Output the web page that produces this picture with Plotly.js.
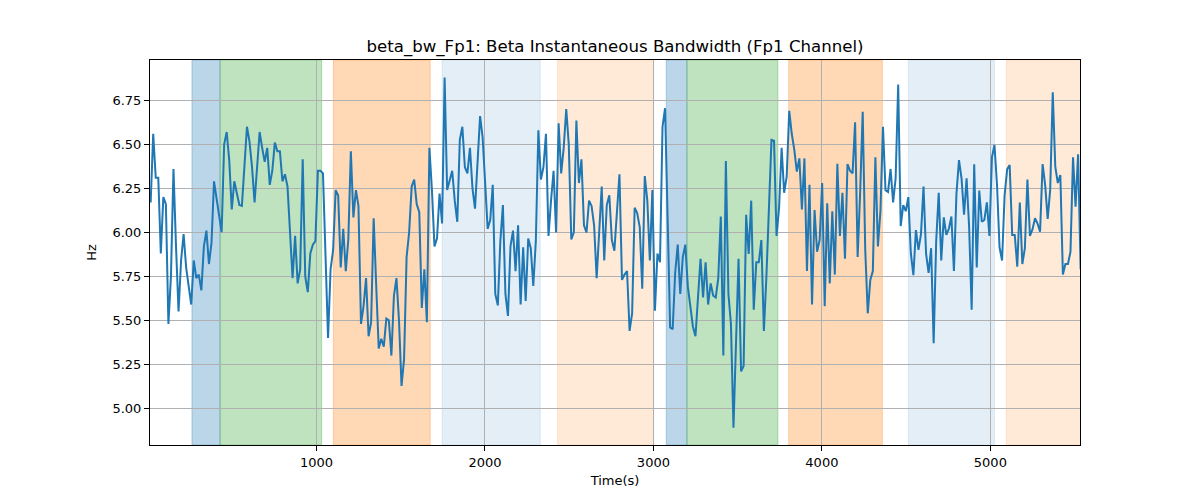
<!DOCTYPE html>
<html>
<head>
<meta charset="utf-8">
<script src="https://cdn.plot.ly/plotly-3.0.1.min.js"></script>
<style>
  body { margin: 0; background: #fff; }
  #chart { width: 1200px; height: 500px; }
</style>
</head>
<body>
<div id="chart"></div>
<script>
// beta bandwidth, Fp1 channel (Hz), sampled every ~15 s starting at t=16
const tStart = 16;
const tStep = 15.04;
const bw = [
  6.17, 6.56, 6.31, 6.31, 5.88, 6.20, 6.16, 5.48, 5.75, 6.36,
  5.92, 5.55, 5.84, 5.99, 5.80, 5.70, 5.59, 5.84, 5.74, 5.76,
  5.67, 5.92, 6.01, 5.82, 5.94, 6.29, 6.20, 6.10, 6.00, 6.50,
  6.57, 6.41, 6.13, 6.29, 6.22, 6.155, 6.15, 6.35, 6.60, 6.515,
  6.37, 6.17, 6.35, 6.57, 6.48, 6.40, 6.48, 6.27, 6.35, 6.51,
  6.46, 6.46, 6.29, 6.33, 6.26, 5.99, 5.74, 5.98, 5.71, 5.79,
  6.415, 5.75, 5.66, 5.88, 5.93, 5.95, 6.35, 6.35, 6.335, 5.87,
  5.40, 5.79, 5.90, 6.24, 6.21, 5.80, 6.02, 5.78, 5.96, 6.46,
  6.085, 6.24, 6.15, 5.48, 5.58, 5.74, 5.41, 5.49, 6.08, 5.70,
  5.34, 5.395, 5.35, 5.51, 5.50, 5.30, 5.64, 5.74, 5.50, 5.127,
  5.28, 5.86, 6.00, 6.26, 6.30, 6.16, 6.115, 5.57, 5.79, 5.49,
  6.48, 6.24, 5.92, 5.966, 6.22, 6.05, 6.88, 6.24, 6.30, 6.35,
  6.18, 6.06, 6.525, 6.60, 6.37, 6.335, 6.48, 6.25, 6.135, 6.41,
  6.66, 6.54, 6.26, 6.02, 6.07, 6.27, 5.65, 5.585, 5.95, 6.155,
  5.65, 5.525, 5.92, 6.01, 5.78, 6.04, 5.59, 5.915, 5.61, 5.965,
  5.91, 5.695, 5.95, 6.58, 6.30, 6.37, 6.56, 5.98, 6.18, 6.35,
  6.00, 6.62, 6.335, 6.48, 6.70, 6.50, 5.96, 6.00, 6.635, 6.28,
  6.415, 6.04, 6.00, 6.18, 6.15, 6.04, 5.74, 6.04, 6.26, 5.84,
  6.155, 6.21, 5.956, 5.896, 6.127, 6.33, 5.73, 5.76, 5.78, 5.44,
  5.54, 6.14, 6.11, 6.03, 5.68, 6.32, 6.18, 5.84, 6.24, 5.555,
  5.88, 5.83, 6.60, 6.705, 6.09, 5.46, 5.45, 5.77, 5.93, 5.65,
  5.86, 5.93, 5.69, 5.56, 5.464, 5.41, 5.65, 5.85, 5.63, 5.83,
  5.59, 5.71, 5.64, 5.63, 5.74, 6.09, 5.30, 6.405, 5.65, 5.48,
  4.89, 5.37, 5.85, 5.21, 5.24, 6.10, 5.877, 6.18, 5.56, 5.83,
  5.83, 5.956, 5.44, 5.75, 6.09, 6.525, 6.52, 5.98, 6.14, 6.48,
  6.225, 6.316, 6.69, 6.56, 6.47, 6.345, 6.42, 6.13, 6.42, 5.78,
  6.27, 5.59, 6.127, 5.89, 5.956, 6.28, 5.58, 6.165, 5.71, 6.12,
  5.76, 6.39, 5.98, 6.225, 5.85, 6.388, 6.35, 6.335, 6.625, 5.86,
  6.23, 6.685, 5.90, 5.54, 5.73, 5.78, 6.426, 5.92, 6.12, 6.60,
  6.24, 6.23, 6.36, 6.17, 6.307, 6.84, 6.036, 6.155, 6.12, 6.20,
  5.88, 5.757, 6.013, 5.90, 5.99, 6.26, 5.88, 5.77, 5.91, 5.37,
  5.95, 6.225, 5.84, 6.085, 5.985, 6.02, 6.09, 5.78, 6.22, 6.41,
  6.307, 6.10, 6.307, 6.03, 5.56, 6.386, 5.80, 6.237, 6.06, 6.07,
  6.17, 5.98, 6.426, 6.496, 6.27, 5.915, 5.84, 6.21, 6.358, 6.383,
  5.985, 5.985, 5.805, 6.17, 5.82, 5.91, 6.30, 5.98, 6.017, 6.08,
  6.05, 6.004, 6.388, 6.27, 6.076, 6.244, 6.795, 6.373, 6.28, 6.326,
  5.76, 5.82, 5.82, 5.89, 6.426, 6.146, 6.443, 5.79
];

// shaded segments: start, end, colour
const spanStart = [261, 428, 1100, 1746, 2431, 3076, 3199, 3803, 4513, 5095];
const spanEnd   = [428, 1031, 1675, 2328, 3001, 3199, 3739, 4359, 5024, 5600];
const spanColor = [
  "rgba(31,119,180,0.3)", "rgba(44,160,44,0.3)", "rgba(255,127,14,0.3)",
  "rgba(31,119,180,0.12)", "rgba(255,127,14,0.16)",
  "rgba(31,119,180,0.3)", "rgba(44,160,44,0.3)", "rgba(255,127,14,0.3)",
  "rgba(31,119,180,0.12)", "rgba(255,127,14,0.16)"
];

const xTicks = [1000, 2000, 3000, 4000, 5000];
const yTicks = [5.0, 5.25, 5.5, 5.75, 6.0, 6.25, 6.5, 6.75];

const shapes = spanStart.map((s, i) => ({
  type: "rect",
  xref: "x",
  yref: "paper",
  x0: s,
  x1: spanEnd[i],
  y0: 0,
  y1: 1,
  fillcolor: spanColor[i],
  line: { color: spanColor[i], width: 1 },
  layer: "below",
}));

const trace = {
  type: "scatter",
  mode: "lines",
  y: bw,
  x0: tStart,
  dx: tStep,
  line: { color: "#1f77b4", width: 2 },
  hoverinfo: "x+y",
};

const axisCommon = {
  showline: true,
  linecolor: "black",
  linewidth: 1,
  mirror: true,
  ticks: "outside",
  ticklen: 5,
  tickcolor: "black",
  showgrid: true,
  gridcolor: "#b0b0b0",
  gridwidth: 1,
  zeroline: false,
  tickfont: { size: 13, color: "black" },
};

const layout = {
  width: 1200,
  height: 500,
  margin: { l: 150, r: 120, t: 60, b: 55 },
  paper_bgcolor: "white",
  plot_bgcolor: "white",
  font: { family: "DejaVu Sans", color: "black" },
  showlegend: false,
  title: {
    text: "beta_bw_Fp1: Beta Instantaneous Bandwidth (Fp1 Channel)",
    font: { size: 16.6 },
    x: 0.5125,
    xanchor: "center",
    yref: "container",
    y: 0.908,
    yanchor: "middle",
  },
  xaxis: Object.assign({}, axisCommon, {
    range: [12, 5532],
    tickvals: xTicks,
    ticktext: xTicks.map(String),
    title: { text: "Time(s)", font: { size: 13 }, standoff: 7 },
  }),
  yaxis: Object.assign({}, axisCommon, {
    range: [4.792, 6.979],
    tickvals: yTicks,
    ticktext: yTicks.map(v => v.toFixed(2)),
    title: { text: "Hz", font: { size: 13 }, standoff: 12 },
  }),
  shapes: shapes,
};

Plotly.newPlot("chart", [trace], layout, { displayModeBar: false, staticPlot: true });
</script>
</body>
</html>
